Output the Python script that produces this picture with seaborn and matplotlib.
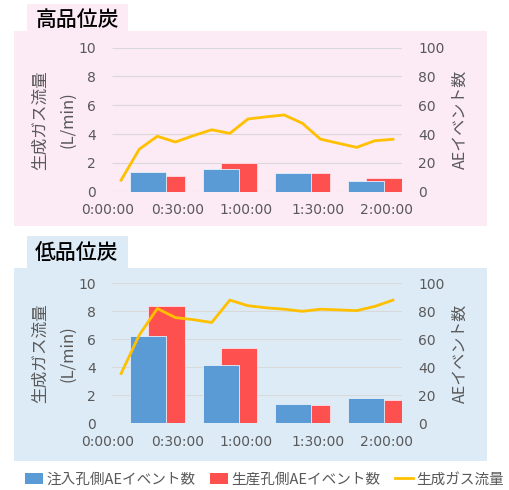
import numpy as np
import pandas as pd
import matplotlib
matplotlib.use("Agg")
import matplotlib.pyplot as plt
import seaborn as sns
from matplotlib.patches import Rectangle, Patch
from matplotlib.lines import Line2D

plt.rcParams['font.family'] = ['DejaVu Sans', 'Noto Sans CJK JP']

# ---------------- data ----------------
time_labels = ["0:00:00", "0:30:00", "1:00:00", "1:30:00", "2:00:00"]
series_names = ["注入孔側AEイベント数", "生産孔側AEイベント数", "生成ガス流量"]
panel_titles = ["高品位炭", "低品位炭"]
left_label = ["生成ガス流量", "(L/min)"]
right_label = "AEイベント数"

high_gas = [0.8, 2.95, 3.85, 3.45, 3.9, 4.3, 4.05, 5.05, 5.2, 5.33, 4.75, 3.65, 3.36, 3.08, 3.54, 3.64]
high_inj = [13.8, 16.1, 13.1, 7.4]
high_prod = [10.6, 19.6, 13.1, 9.2]

low_gas = [3.55, 6.3, 8.2, 7.55, 7.4, 7.2, 8.8, 8.4, 8.25, 8.15, 8.0, 8.15, 8.1, 8.05, 8.35, 8.8]
low_inj = [62.4, 41.6, 14.0, 18.3]
low_prod = [84.0, 53.8, 12.8, 16.6]

# ---------------- style ----------------
C_BLUE = "#5B9BD5"
C_RED = "#FF5050"
C_LINE = "#FFC000"
C_TXT = "#595959"
C_GRID = "#D9D9D9"
CJK = ['Noto Sans CJK JP', 'DejaVu Sans']

W, H = 509, 490
fig = plt.figure(figsize=(W / 100, H / 100), dpi=100)
fig.patch.set_facecolor("white")


def fx(x):
    return x / W


def fy(y):
    return 1 - y / H


panels = [
    dict(title=panel_titles[0], gas=high_gas, inj=high_inj, prod=high_prod,
         bg="#FCEAF4", box=(14, 31.5, 487, 226), tbox=(27, 4, 128, 31.5),
         top=47.7, bottom=191.7, ty=19.5),
    dict(title=panel_titles[1], gas=low_gas, inj=low_inj, prod=low_prod,
         bg="#DDEBF7", box=(14, 268, 487, 461), tbox=(27, 236, 128, 268),
         top=283.3, bottom=423.3, ty=253),
]

n_pts = len(high_gas)
tick_pos = [-0.25, 3.62, 7.40, 11.35, 15.12]

for p in panels:
    for (x0, y0, x1, y1) in (p["box"], p["tbox"]):
        r = Rectangle((fx(x0), fy(y1)), (x1 - x0) / W, (y1 - y0) / H,
                      transform=fig.transFigure, facecolor=p["bg"],
                      edgecolor="none", zorder=-10)
        fig.add_artist(r)
    fig.text(fx(77), fy(p["ty"]), p["title"], ha="center", va="center",
             fontsize=15, color="black", family=CJK, fontweight="medium")

    left_px, right_px = 107.5, 402
    axb = fig.add_axes([fx(left_px), fy(p["bottom"]), (right_px - left_px) / W,
                        (p["bottom"] - p["top"]) / H])
    axb.patch.set_visible(False)
    axl = axb.twinx()
    axl.patch.set_visible(False)

    # bars (right axis, AE events)
    grp = np.arange(len(p["inj"]))
    df_prod = pd.DataFrame({"x": 4 * grp + 3.0, "y": p["prod"]})
    df_inj = pd.DataFrame({"x": 4 * grp + 2.0, "y": p["inj"]})
    sns.barplot(data=df_prod, x="x", y="y", native_scale=True, width=0.5,
                color=C_RED, saturation=1, errorbar=None, ax=axb,
                edgecolor="#FFE0E8", linewidth=0.6)
    sns.barplot(data=df_inj, x="x", y="y", native_scale=True, width=0.5,
                color=C_BLUE, saturation=1, errorbar=None, ax=axb,
                edgecolor="#E6F0FA", linewidth=0.6)
    axb.hlines(np.arange(0, 101, 20), 0, 16, color=C_GRID, lw=0.8, zorder=0)

    # line (left axis, gas flow)
    df_gas = pd.DataFrame({"x": np.arange(n_pts) + 0.5, "y": p["gas"]})
    sns.lineplot(data=df_gas, x="x", y="y", color=C_LINE, linewidth=2, ax=axl)

    axb.set_xlim(-0.25, 16)
    axb.set_ylim(0, 100)
    axl.set_ylim(0, 10)
    axb.set_yticks(np.arange(0, 101, 20))
    axl.set_yticks(np.arange(0, 11, 2))
    axb.yaxis.tick_right()
    axl.yaxis.tick_left()
    axb.set_xticks(tick_pos)
    axb.set_xticklabels(time_labels)
    for a in (axb, axl):
        a.set_xlabel("")
        a.set_ylabel("")
        for s in a.spines.values():
            s.set_visible(False)
    axb.tick_params(axis="x", length=0, pad=8.3, labelsize=10, labelcolor=C_TXT)
    axb.tick_params(axis="y", length=0, pad=11.5, labelsize=10, labelcolor=C_TXT)
    axl.tick_params(axis="y", length=0, pad=8.3, labelsize=10, labelcolor=C_TXT)

    yc = fy((p["top"] + p["bottom"]) / 2)
    fig.text(fx(40), yc, left_label[0], rotation=90, ha="center", va="center",
             fontsize=12, color=C_TXT, family=CJK)
    fig.text(fx(67.5), yc, left_label[1], rotation=90, ha="center", va="center",
             fontsize=12, color=C_TXT, family=CJK)
    fig.text(fx(460.7), yc, right_label, rotation=90, ha="center", va="center",
             fontsize=11.5, color=C_TXT, family=CJK)

handles = [Patch(facecolor=C_BLUE), Patch(facecolor=C_RED),
           Line2D([], [], color=C_LINE, lw=2)]
leg = fig.legend(handles, series_names, loc="center left",
                 bbox_to_anchor=(fx(25), fy(479.5)), ncol=3, frameon=False,
                 prop={"family": CJK, "size": 10.5}, handlelength=1.25,
                 handletextpad=0.2, columnspacing=1.0, borderpad=0,
                 borderaxespad=0)
for t in leg.get_texts():
    t.set_color(C_TXT)

fig.savefig("out.png", dpi=100, facecolor="white")
